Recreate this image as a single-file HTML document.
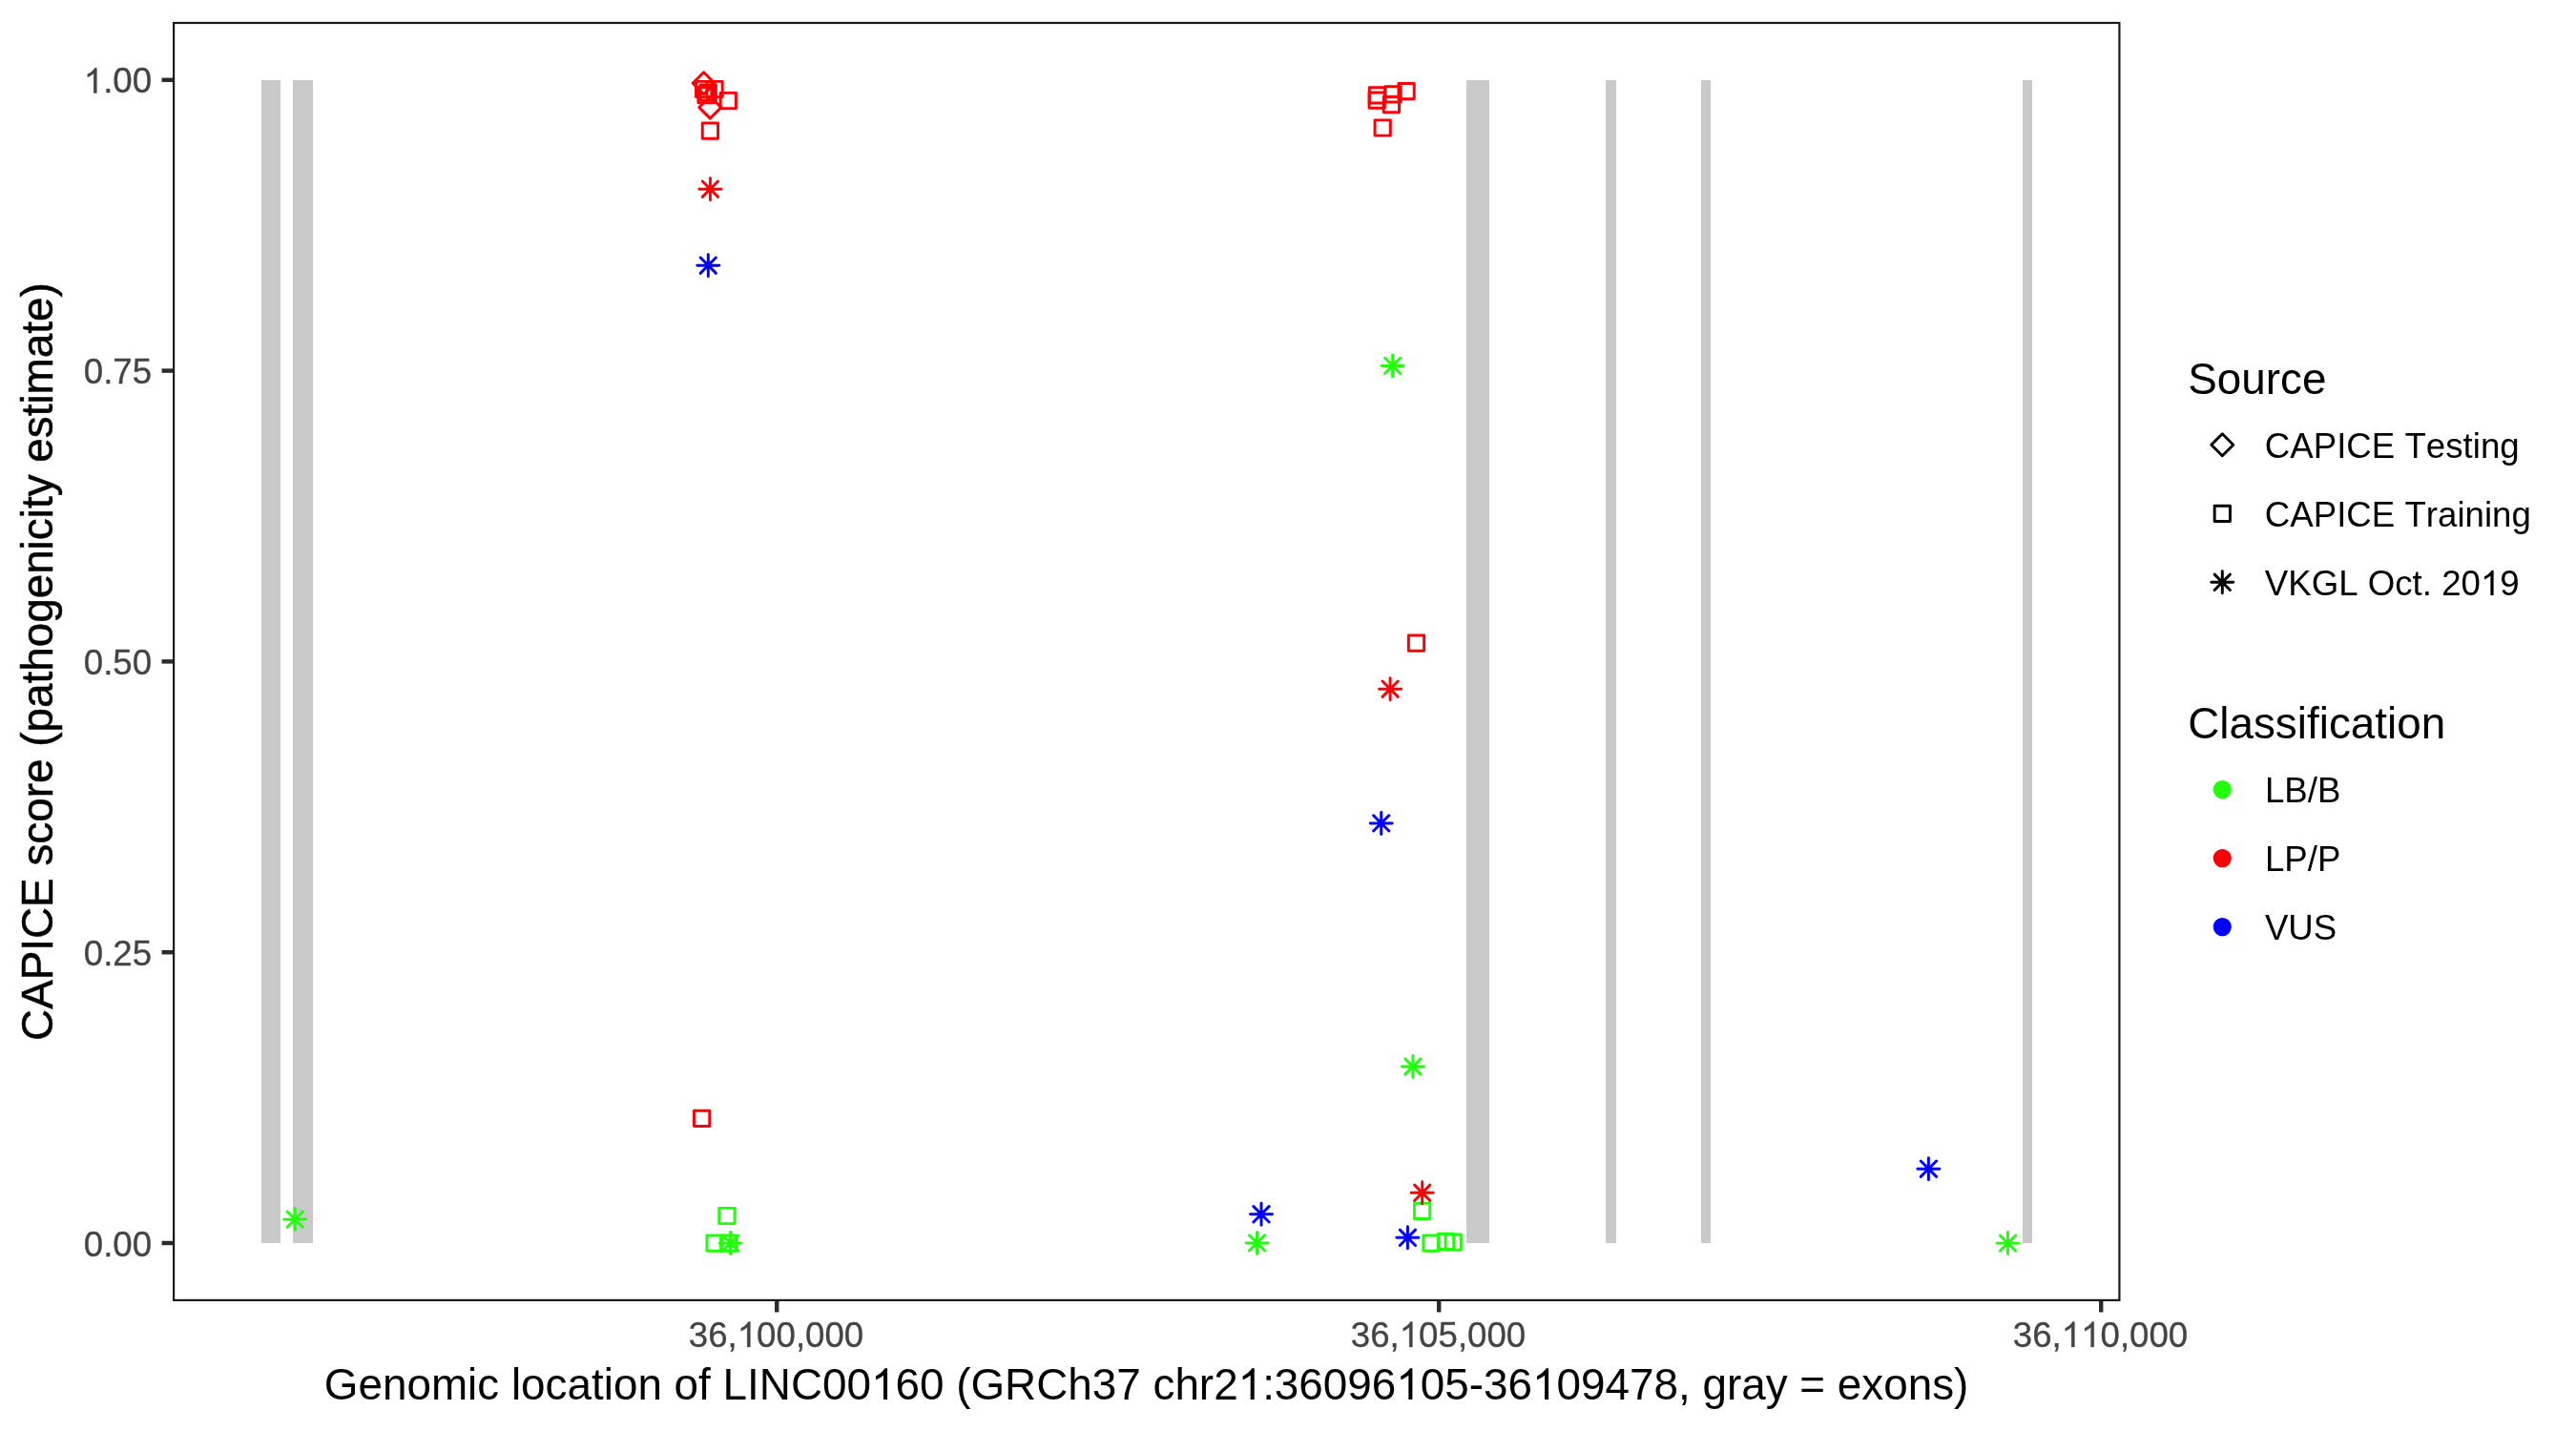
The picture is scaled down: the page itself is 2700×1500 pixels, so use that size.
<!DOCTYPE html>
<html><head><meta charset="utf-8"><title>CAPICE LINC00160</title>
<style>
html,body{margin:0;padding:0;background:#fff;}
body{width:2700px;height:1500px;overflow:hidden;}
svg{display:block;font-family:"Liberation Sans",sans-serif;font-kerning:none;will-change:transform;}
.h{fill:none;stroke:none;}
</style></head><body>
<svg width="2700" height="1500" viewBox="0 0 2700 1500">
<rect x="0" y="0" width="2700" height="1500" fill="#fff"/>
<g fill="#C9C9C9" shape-rendering="crispEdges">
<rect x="274" y="83.8" width="20" height="1219.2"/>
<rect x="307" y="83.8" width="21" height="1219.2"/>
<rect x="1537" y="83.8" width="24" height="1219.2"/>
<rect x="1683" y="83.8" width="11" height="1219.2"/>
<rect x="1783" y="83.8" width="10" height="1219.2"/>
<rect x="2120" y="83.8" width="10" height="1219.2"/>
</g>
<g fill="none" stroke-width="2.95" stroke-linecap="round" stroke-linejoin="round">
<path d="M726.09 87.20L737.60 75.69L749.11 87.20L737.60 98.71Z" stroke="#FB0007"/>
<rect x="729.56" y="85.36" width="16.28" height="16.28" stroke="#FB0007"/>
<rect x="740.86" y="85.36" width="16.28" height="16.28" stroke="#FB0007"/>
<rect x="731.86" y="91.56" width="16.28" height="16.28" stroke="#FB0007"/>
<rect x="734.06" y="88.86" width="16.28" height="16.28" stroke="#FB0007"/>
<rect x="755.16" y="97.36" width="16.28" height="16.28" stroke="#FB0007"/>
<path d="M732.79 112.60L744.30 101.09L755.81 112.60L744.30 124.11Z" stroke="#FB0007"/>
<rect x="736.26" y="128.96" width="16.28" height="16.28" stroke="#FB0007"/>
<path d="M736.26 190.06L752.54 206.34M736.26 206.34L752.54 190.06M732.89 198.20L755.91 198.20M744.40 186.69L744.40 209.71" stroke="#FB0007"/>
<path d="M734.16 270.06L750.44 286.34M734.16 286.34L750.44 270.06M730.79 278.20L753.81 278.20M742.30 266.69L742.30 289.71" stroke="#0200FC"/>
<rect x="727.46" y="1164.16" width="16.28" height="16.28" stroke="#FB0007"/>
<rect x="753.76" y="1266.36" width="16.28" height="16.28" stroke="#22FF0C"/>
<rect x="740.96" y="1294.96" width="16.28" height="16.28" stroke="#22FF0C"/>
<rect x="755.56" y="1294.96" width="16.28" height="16.28" stroke="#22FF0C"/>
<path d="M757.46 1294.96L773.74 1311.24M757.46 1311.24L773.74 1294.96M754.09 1303.10L777.11 1303.10M765.60 1291.59L765.60 1314.61" stroke="#22FF0C"/>
<path d="M301.06 1269.96L317.34 1286.24M301.06 1286.24L317.34 1269.96M297.69 1278.10L320.71 1278.10M309.20 1266.59L309.20 1289.61" stroke="#22FF0C"/>
<path d="M1313.86 1264.66L1330.14 1280.94M1313.86 1280.94L1330.14 1264.66M1310.49 1272.80L1333.51 1272.80M1322.00 1261.29L1322.00 1284.31" stroke="#0200FC"/>
<path d="M1309.36 1294.76L1325.64 1311.04M1309.36 1311.04L1325.64 1294.76M1305.99 1302.90L1329.01 1302.90M1317.50 1291.39L1317.50 1314.41" stroke="#22FF0C"/>
<rect x="1465.96" y="87.56" width="16.28" height="16.28" stroke="#FB0007"/>
<rect x="1451.96" y="90.66" width="16.28" height="16.28" stroke="#FB0007"/>
<rect x="1435.36" y="91.76" width="16.28" height="16.28" stroke="#FB0007"/>
<rect x="1435.06" y="96.96" width="16.28" height="16.28" stroke="#FB0007"/>
<rect x="1450.26" y="101.46" width="16.28" height="16.28" stroke="#FB0007"/>
<rect x="1441.06" y="125.86" width="16.28" height="16.28" stroke="#FB0007"/>
<path d="M1451.46 375.26L1467.74 391.54M1451.46 391.54L1467.74 375.26M1448.09 383.40L1471.11 383.40M1459.60 371.89L1459.60 394.91" stroke="#22FF0C"/>
<rect x="1476.36" y="666.06" width="16.28" height="16.28" stroke="#FB0007"/>
<path d="M1448.96 714.06L1465.24 730.34M1448.96 730.34L1465.24 714.06M1445.59 722.20L1468.61 722.20M1457.10 710.69L1457.10 733.71" stroke="#FB0007"/>
<path d="M1439.56 854.76L1455.84 871.04M1439.56 871.04L1455.84 854.76M1436.19 862.90L1459.21 862.90M1447.70 851.39L1447.70 874.41" stroke="#0200FC"/>
<path d="M1472.76 1109.86L1489.04 1126.14M1472.76 1126.14L1489.04 1109.86M1469.39 1118.00L1492.41 1118.00M1480.90 1106.49L1480.90 1129.51" stroke="#22FF0C"/>
<rect x="1482.46" y="1261.16" width="16.28" height="16.28" stroke="#22FF0C"/>
<path d="M1482.56 1242.16L1498.84 1258.44M1482.56 1258.44L1498.84 1242.16M1479.19 1250.30L1502.21 1250.30M1490.70 1238.79L1490.70 1261.81" stroke="#FB0007"/>
<path d="M1467.26 1289.16L1483.54 1305.44M1467.26 1305.44L1483.54 1289.16M1463.89 1297.30L1486.91 1297.30M1475.40 1285.79L1475.40 1308.81" stroke="#0200FC"/>
<rect x="1491.86" y="1295.06" width="16.28" height="16.28" stroke="#22FF0C"/>
<rect x="1507.46" y="1293.26" width="16.28" height="16.28" stroke="#22FF0C"/>
<rect x="1515.06" y="1293.96" width="16.28" height="16.28" stroke="#22FF0C"/>
<path d="M2013.26 1217.06L2029.54 1233.34M2013.26 1233.34L2029.54 1217.06M2009.89 1225.20L2032.91 1225.20M2021.40 1213.69L2021.40 1236.71" stroke="#0200FC"/>
<path d="M2096.36 1294.96L2112.64 1311.24M2096.36 1311.24L2112.64 1294.96M2092.99 1303.10L2116.01 1303.10M2104.50 1291.59L2104.50 1314.61" stroke="#22FF0C"/>
</g>
<rect x="182.1" y="24.0" width="2039.3" height="1338.8999999999999" fill="none" stroke="#1A1A1A" stroke-width="2.2"/>
<g stroke="#2B2B2B" stroke-width="4.45" fill="none">
<path d="M169.54 83.80H181.0"/>
<path d="M169.54 388.60H181.0"/>
<path d="M169.54 693.40H181.0"/>
<path d="M169.54 998.20H181.0"/>
<path d="M169.54 1303.00H181.0"/>
<path d="M814.2 1364.0V1375.46"/>
<path d="M1508.2 1364.0V1375.46"/>
<path d="M2202.2 1364.0V1375.46"/>
</g>
<g font-size="36.67" fill="#444" stroke="#444" stroke-width="0.3">
<text transform="translate(0 97.50) scale(1 1.02) translate(0 -97.50)" x="159.1" y="97.50" text-anchor="end"><tspan class="h">1</tspan>.00</text>
<text transform="translate(0 402.30) scale(1 1.02) translate(0 -402.30)" x="159.1" y="402.30" text-anchor="end">0.75</text>
<text transform="translate(0 707.10) scale(1 1.02) translate(0 -707.10)" x="159.1" y="707.10" text-anchor="end">0.50</text>
<text transform="translate(0 1011.90) scale(1 1.02) translate(0 -1011.90)" x="159.1" y="1011.90" text-anchor="end">0.25</text>
<text transform="translate(0 1316.70) scale(1 1.02) translate(0 -1316.70)" x="159.1" y="1316.70" text-anchor="end">0.00</text>
<text transform="translate(0 1411.9) scale(1 1.02) translate(0 -1411.9)" x="813.5" y="1411.9" text-anchor="middle">36,<tspan class="h">1</tspan>00,000</text>
<text transform="translate(0 1411.9) scale(1 1.02) translate(0 -1411.9)" x="1507.5" y="1411.9" text-anchor="middle">36,<tspan class="h">1</tspan>05,000</text>
<text transform="translate(0 1411.9) scale(1 1.02) translate(0 -1411.9)" x="2201.5" y="1411.9" text-anchor="middle">36,<tspan class="h">1</tspan><tspan class="h">1</tspan>0,000</text>
</g>
<g font-size="45.83" fill="#000">
<text x="1201.6" y="1467.1" text-anchor="middle">Genomic location of LINC00<tspan class="h">1</tspan>60 (GRCh37 chr2<tspan class="h">1</tspan>:36096<tspan class="h">1</tspan>05-36<tspan class="h">1</tspan>09478, gray = exons)</text>
<text transform="translate(54.8 693.6) rotate(-90)" text-anchor="middle" stroke="#000" stroke-width="0.5">CAPICE score (pathogenicity estimate)</text>
<text x="2293.2" y="412.6">Source</text>
<text x="2293.2" y="773.8">Classification</text>
</g>
<g fill="none" stroke-width="2.95" stroke-linecap="round" stroke-linejoin="round">
<path d="M2317.79 466.30L2329.30 454.79L2340.81 466.30L2329.30 477.81Z" stroke="#000"/>
<rect x="2321.16" y="530.16" width="16.28" height="16.28" stroke="#000"/>
<path d="M2321.16 602.16L2337.44 618.44M2321.16 618.44L2337.44 602.16M2317.79 610.30L2340.81 610.30M2329.30 598.79L2329.30 621.81" stroke="#000"/>
</g>
<circle cx="2329.3" cy="827.6" r="8.14" fill="#22FF0C" stroke="#22FF0C" stroke-width="2.95"/>
<circle cx="2329.3" cy="899.6" r="8.14" fill="#FB0007" stroke="#FB0007" stroke-width="2.95"/>
<circle cx="2329.3" cy="971.6" r="8.14" fill="#0200FC" stroke="#0200FC" stroke-width="2.95"/>
<g font-size="36.67" fill="#000">
<text x="2373.8" y="480.10">CAPICE Testing</text>
<text x="2373.8" y="552.10">CAPICE Training</text>
<text x="2373.8" y="624.10">VKGL Oct. 20<tspan class="h">1</tspan>9</text>
<text x="2373.9" y="840.70">LB/B</text>
<text x="2373.9" y="912.70">LP/P</text>
<text x="2373.9" y="984.70">VUS</text>
</g>
<g>
<path transform="translate(87.75 97.50) scale(0.017905 -0.017905)" d="M763 0H583V1147Q518 1085 412.5 1023T223 930V1104Q374 1175 487 1276T647 1472H763Z" fill="#444444" stroke="#444444" stroke-width="16.8"/>
<path transform="translate(772.74 1411.90) scale(0.017905 -0.017905)" d="M763 0H583V1147Q518 1085 412.5 1023T223 930V1104Q374 1175 487 1276T647 1472H763Z" fill="#444444" stroke="#444444" stroke-width="16.8"/>
<path transform="translate(1466.74 1411.90) scale(0.017905 -0.017905)" d="M763 0H583V1147Q518 1085 412.5 1023T223 930V1104Q374 1175 487 1276T647 1472H763Z" fill="#444444" stroke="#444444" stroke-width="16.8"/>
<path transform="translate(2160.73 1411.90) scale(0.017905 -0.017905)" d="M763 0H583V1147Q518 1085 412.5 1023T223 930V1104Q374 1175 487 1276T647 1472H763Z" fill="#444444" stroke="#444444" stroke-width="16.8"/>
<path transform="translate(2181.12 1411.90) scale(0.017905 -0.017905)" d="M763 0H583V1147Q518 1085 412.5 1023T223 930V1104Q374 1175 487 1276T647 1472H763Z" fill="#444444" stroke="#444444" stroke-width="16.8"/>
<path transform="translate(912.98 1467.10) scale(0.022378 -0.022378)" d="M763 0H583V1147Q518 1085 412.5 1023T223 930V1104Q374 1175 487 1276T647 1472H763Z" fill="#000000"/>
<path transform="translate(1297.64 1467.10) scale(0.022378 -0.022378)" d="M763 0H583V1147Q518 1085 412.5 1023T223 930V1104Q374 1175 487 1276T647 1472H763Z" fill="#000000"/>
<path transform="translate(1463.31 1467.10) scale(0.022378 -0.022378)" d="M763 0H583V1147Q518 1085 412.5 1023T223 930V1104Q374 1175 487 1276T647 1472H763Z" fill="#000000"/>
<path transform="translate(1606.03 1467.10) scale(0.022378 -0.022378)" d="M763 0H583V1147Q518 1085 412.5 1023T223 930V1104Q374 1175 487 1276T647 1472H763Z" fill="#000000"/>
<path transform="translate(2599.96 624.10) scale(0.017905 -0.017905)" d="M763 0H583V1147Q518 1085 412.5 1023T223 930V1104Q374 1175 487 1276T647 1472H763Z" fill="#000000"/>
</g>
</svg>
</body></html>
